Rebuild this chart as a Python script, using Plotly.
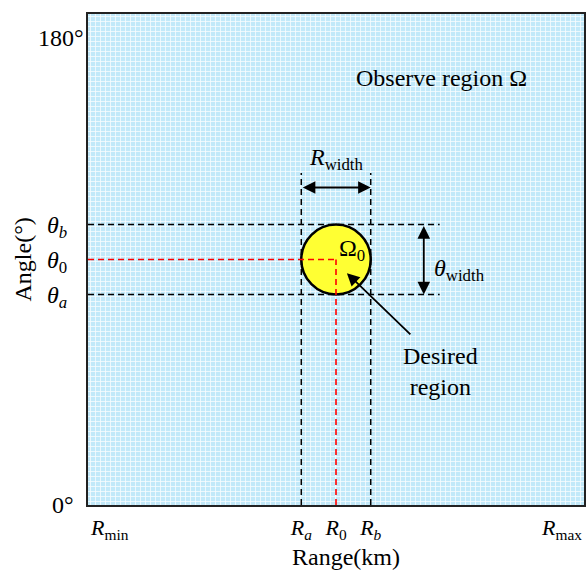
import plotly.graph_objects as go

# ---- data (normalised range 0..1, angle in degrees) ----
R_min, R_max = 0.0, 1.0
ang_min, ang_max = 0.0, 180.0
R_a, R_0, R_b = 0.43, 0.50, 0.57
th_a, th_0, th_b = 77.2, 90.0, 102.8
x_tick_vals = [R_a, R_0, R_b]
x_tick_text = ["<i>R</i><sub><i>a</i></sub>", "<i>R</i><sub>0</sub>", "<i>R</i><sub><i>b</i></sub>"]
y_tick_vals = [th_a, th_0, th_b]
y_tick_text = ["<i>θ</i><sub><i>a</i></sub>", "<i>θ</i><sub>0</sub>", "<i>θ</i><sub><i>b</i></sub>"]
dash_top = 121.7          # top of the vertical dashed guides
dash_right = 0.709        # right end of the horizontal dashed guides
rwidth_y = 116.4          # R_width arrow level
thwidth_x = 0.677         # theta_width arrow position
pointer_tail = (0.653, 62.0)
pointer_head = (0.522, 85.0)

FONT = "Liberation Serif"
FS = 24
TFS = 22

fig = go.Figure()

# observe region (patterned background)
fig.add_trace(go.Scatter(
    x=[R_min, R_max, R_max, R_min, R_min],
    y=[ang_min, ang_min, ang_max, ang_max, ang_min],
    mode="lines", fill="toself", line=dict(width=0),
    fillcolor="#c4eafa",
    fillpattern=dict(shape="+", fgcolor="white", bgcolor="#c2e9f9",
                     size=5, solidity=0.3, fgopacity=0.85),
    hoverinfo="skip", showlegend=False))

shapes = []
blk = dict(color="black", width=1.5, dash="6px,4px")
red = dict(color="#ff0000", width=1.6, dash="6px,4px")
# horizontal black dashed
for th in (th_a, th_b):
    shapes.append(dict(type="line", x0=R_min, x1=dash_right, y0=th, y1=th, line=blk, layer="above"))
# vertical black dashed
for r in (R_a, R_b):
    shapes.append(dict(type="line", x0=r, x1=r, y0=ang_min, y1=dash_top, line=blk, layer="above"))
# desired region circle
shapes.append(dict(type="circle", x0=R_a, x1=R_b, y0=th_a, y1=th_b,
                   fillcolor="#ffff33", line=dict(color="black", width=2.5), layer="above"))
# red dashed
shapes.append(dict(type="line", x0=R_min, x1=R_0, y0=th_0, y1=th_0, line=red, layer="above"))
shapes.append(dict(type="line", x0=R_0, x1=R_0, y0=ang_min, y1=th_0, line=red, layer="above"))

ann = []
txt = dict(family=FONT, size=FS, color="black")
ttxt = dict(family=FONT, size=TFS, color="black")
# arrows
ann.append(dict(x=R_b, y=rwidth_y, ax=R_a, ay=rwidth_y, xref="x", yref="y", axref="x", ayref="y",
                text="", showarrow=True, arrowhead=2, startarrowhead=2, arrowside="end+start",
                arrowsize=1.4, startarrowsize=1.4, arrowwidth=1.8, arrowcolor="black"))
ann.append(dict(x=thwidth_x, y=th_a, ax=thwidth_x, ay=th_b, xref="x", yref="y", axref="x", ayref="y",
                text="", showarrow=True, arrowhead=2, startarrowhead=2, arrowside="end+start",
                arrowsize=1.4, startarrowsize=1.4, arrowwidth=1.8, arrowcolor="black"))
ann.append(dict(x=pointer_head[0], y=pointer_head[1], ax=pointer_tail[0], ay=pointer_tail[1],
                xref="x", yref="y", axref="x", ayref="y",
                text="", showarrow=True, arrowhead=2, arrowsize=1.4, arrowwidth=1.8, arrowcolor="black"))
# labels inside
ann.append(dict(x=0.5, y=127.0, xref="x", yref="y", text="<i>R</i><sub>width</sub>", showarrow=False, font=txt))
ann.append(dict(x=0.748, y=86.0, xref="x", yref="y", text="<i>θ</i><sub>width</sub>", showarrow=False, font=txt))
ann.append(dict(x=0.532, y=93.5, xref="x", yref="y", text="Ω<sub>0</sub>", showarrow=False, font=txt))
ann.append(dict(x=0.713, y=156.5, xref="x", yref="y", text="Observe region Ω", showarrow=False, font=txt))
ann.append(dict(x=0.711, y=48.8, xref="x", yref="y", text="Desired<br>region", showarrow=False, font=txt))
# end labels
ann.append(dict(x=R_min, y=0, xref="x", yref="paper", xanchor="left", yanchor="top", yshift=-8,
                text="<i>R</i><sub>min</sub>", showarrow=False, font=ttxt))
ann.append(dict(x=R_max, y=0, xref="x", yref="paper", xanchor="right", yanchor="top", yshift=-8,
                text="<i>R</i><sub>max</sub>", showarrow=False, font=ttxt))
ann.append(dict(x=0, y=ang_max, xref="paper", yref="y", xanchor="right", yanchor="middle", xshift=-2, yshift=-24,
                text="180°", showarrow=False, font=txt))
ann.append(dict(x=0, y=ang_min, xref="paper", yref="y", xanchor="right", yanchor="middle", xshift=-12,
                text="0°", showarrow=False, font=txt))
# axis titles
ann.append(dict(x=0.52, y=0, xref="paper", yref="paper", yanchor="middle", yshift=-52,
                text="Range(km)", showarrow=False, font=txt))
ann.append(dict(x=0, y=0.5, xref="paper", yref="paper", xanchor="center", xshift=-66,
                text="Angle(°)", textangle=-90, showarrow=False, font=txt))

fig.update_layout(
    width=587, height=570,
    margin=dict(l=88, r=1, t=14, b=65),
    paper_bgcolor="white", plot_bgcolor="white",
    shapes=shapes, annotations=ann, showlegend=False,
    font=dict(family=FONT, size=FS, color="black"),
    xaxis=dict(range=[R_min, R_max], tickvals=x_tick_vals, ticktext=x_tick_text,
               showgrid=False, zeroline=False, showline=True, mirror=True,
               linecolor="#222", linewidth=2, ticks="", ticklabelstandoff=2,
               tickfont=dict(family=FONT, size=TFS)),
    yaxis=dict(range=[ang_min, ang_max], tickvals=y_tick_vals, ticktext=y_tick_text,
               showgrid=False, zeroline=False, showline=True, mirror=True,
               linecolor="#222", linewidth=2, ticks="", ticklabelstandoff=14,
               tickfont=dict(family=FONT, size=FS)),
)

fig.write_html("out.html")
